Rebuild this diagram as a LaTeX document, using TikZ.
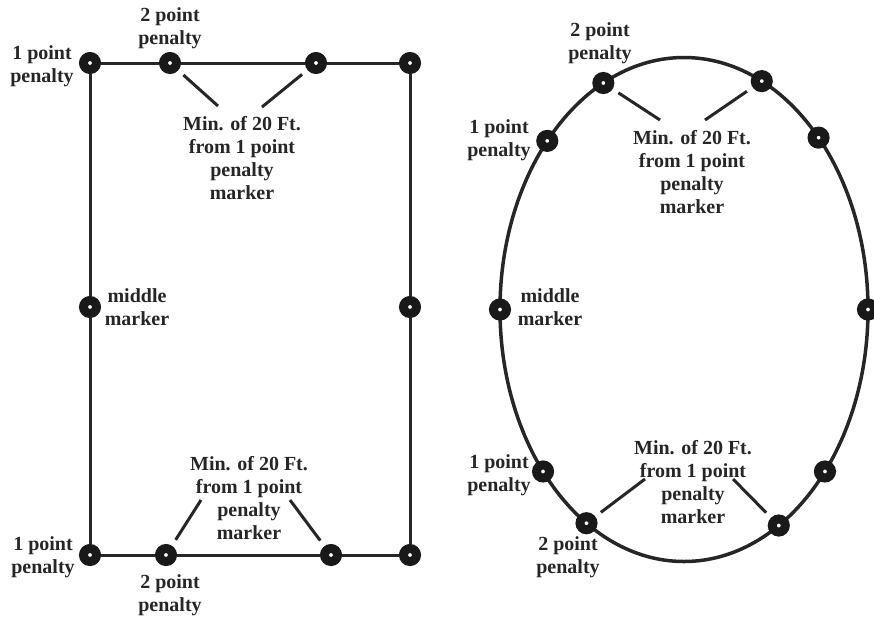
\documentclass[tikz,border=0pt]{standalone}
\usepackage{fontspec}
\setmainfont{Liberation Serif}
\usetikzlibrary{shapes,arrows.meta,positioning}

\begin{document}
\begin{tikzpicture}
      [x=1pt, y=-1pt,
      marker style/.style={circle, draw=black!90, line width=9pt, fill=white, minimum size=13pt, inner sep=0pt},
      label style/.style={align=center, font=\bfseries\fontsize{20}{23}\selectfont, text=black!85, inner sep=0pt},
      edge style/.style={draw, line width=3pt, black!85},
      leader style/.style={draw, line width=3pt, black!85, shorten <=7pt},
      ]
      \useasboundingbox (0,0) rectangle (874,619);

      % rectangular field
      \node[marker style] (r1) at (90,63) {};
      \node[marker style] (r2) at (170,63) {};
      \node[marker style] (r3) at (316,63) {};
      \node[marker style] (r4) at (410,63) {};
      \node[marker style] (r5) at (410,307) {};
      \node[marker style] (r6) at (410,555) {};
      \node[marker style] (r7) at (331,555) {};
      \node[marker style] (r8) at (166,555) {};
      \node[marker style] (r9) at (90,555) {};
      \node[marker style] (r10) at (90,307) {};
      \draw[edge style] (r1) -- (r2) (r2) -- (r3) (r3) -- (r4) (r4) -- (r5) (r5) -- (r6)
        (r6) -- (r7) (r7) -- (r8) (r8) -- (r9) (r9) -- (r10) (r10) -- (r1);

      \node[label style] (rtop1) at (42,66) {1 point\\penalty};
      \node[label style] (rtop2) at (170,28) {2 point\\penalty};
      \node[label style] (rtopmin) at (242,158) {Min. of 20 Ft.\\from 1 point\\penalty\\marker};
      \node[label style] (rmid) at (137,307) {middle\\marker};
      \node[label style] (rbot1) at (43,557) {1 point\\penalty};
      \node[label style] (rbot2) at (170,595) {2 point\\penalty};
      \node[label style] (rbotmin) at (249,498) {Min. of 20 Ft.\\from 1 point\\penalty\\marker};

      \coordinate (ra1) at (218,106);
      \coordinate (ra2) at (262,107);
      \coordinate (rb1) at (201,500);
      \coordinate (rb2) at (290,500);
      \draw[leader style] (r2) -- (ra1);
      \draw[leader style] (r3) -- (ra2);
      \draw[leader style] (r8) -- (rb1);
      \draw[leader style] (r7) -- (rb2);

      % oval field
      \coordinate (ec) at (684,309.5);
      \draw[edge style, line width=3.5pt] (ec) ellipse [x radius=184, y radius=252];
      \node[marker style] (e1) at ([shift={(180:184 and 252)}]ec) {};
      \node[marker style] (e2) at ([shift={(-138:184 and 252)}]ec) {};
      \node[marker style] (e3) at ([shift={(-116:184 and 252)}]ec) {};
      \node[marker style] (e4) at ([shift={(-65:184 and 252)}]ec) {};
      \node[marker style] (e5) at ([shift={(-43:184 and 252)}]ec) {};
      \node[marker style] (e6) at ([shift={(0:184 and 252)}]ec) {};
      \node[marker style] (e7) at ([shift={(40:184 and 252)}]ec) {};
      \node[marker style] (e8) at ([shift={(59:184 and 252)}]ec) {};
      \node[marker style] (e9) at ([shift={(122:184 and 252)}]ec) {};
      \node[marker style] (e10) at ([shift={(140:184 and 252)}]ec) {};

      \node[label style] (etop2) at (600,43) {2 point\\penalty};
      \node[label style] (etop1) at (499,140) {1 point\\penalty};
      \node[label style] (etopmin) at (692,172) {Min. of 20 Ft.\\from 1 point\\penalty\\marker};
      \node[label style] (emid) at (550,307) {middle\\marker};
      \node[label style] (ebot1) at (499,475) {1 point\\penalty};
      \node[label style] (ebot2) at (568,557) {2 point\\penalty};
      \node[label style] (ebotmin) at (693,482) {Min. of 20 Ft.\\from 1 point\\penalty\\marker};

      \coordinate (ea1) at (660,120);
      \coordinate (ea2) at (705,120);
      \coordinate (eb1) at (645,479);
      \coordinate (eb2) at (733,479);
      \draw[leader style] (e3) -- (ea1);
      \draw[leader style] (e4) -- (ea2);
      \draw[leader style] (e9) -- (eb1);
      \draw[leader style] (e8) -- (eb2);
\end{tikzpicture}
\end{document}
